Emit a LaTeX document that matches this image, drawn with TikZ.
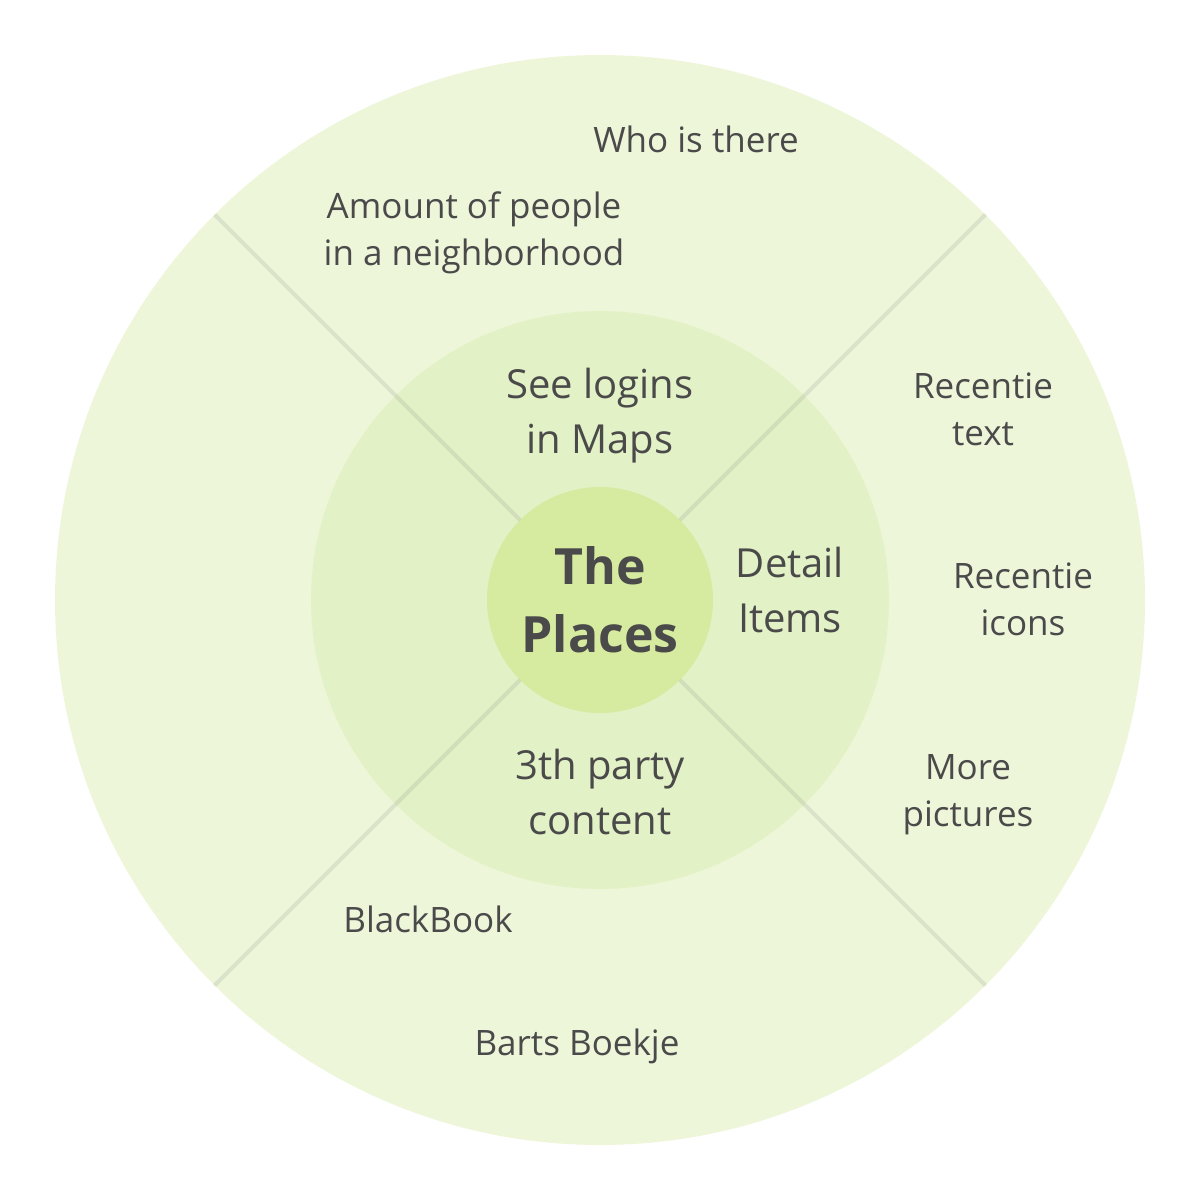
\documentclass[tikz,border=0pt]{standalone}
\usepackage{fontspec}
\setmainfont{Open Sans}
\usetikzlibrary{positioning}

\definecolor{ringout}{HTML}{EEF6DA}
\definecolor{ringmid}{HTML}{E3F1C6}
\definecolor{hubfill}{HTML}{D6EBA0}
\definecolor{txt}{HTML}{4A4A4A}

\begin{document}
\begin{tikzpicture}[x=1pt, y=-1pt,
    ring/.style={circle, inner sep=0pt, outer sep=0pt},
    spoke/.style={line width=4pt, gray, opacity=0.17},
    small/.style={font=\fontsize{35}{47}\selectfont, text=txt, align=center, inner sep=0pt},
    big/.style={font=\fontsize{40}{55}\selectfont, text=txt, align=center, inner sep=0pt}]
  \useasboundingbox (0,0) rectangle (1200,1200);

  % Rings
  \node[ring, fill=ringout, minimum size=1090pt] (outer) at (600,600) {};
  \node[ring, fill=ringmid, minimum size=578pt] (middle) at (600,600) {};
  \node[ring, fill=hubfill, minimum size=226pt,
        font=\fontsize{50}{68}\selectfont\bfseries, text=txt, align=center]
        (hub) at (600,600) {The\\Places};

  % Spokes
  \foreach \a in {45, 135, 225, 315} {
    \draw[spoke] (outer.\a) -- (hub.\a);
  }

  % Middle ring
  \node[big] (logins) at (600,416) {See logins\\in Maps};
  \node[big] (detail) at (790,590) {Detail\\Items};
  \node[big] (third) at (600,792) {3th party\\content};

  % Outer ring
  \node[small] (who) at (696,139) {Who is there};
  \node[small] (amount) at (474,233) {Amount of people\\in a neighborhood};
  \node[small] (rtext) at (983,409) {Recentie\\text};
  \node[small] (ricons) at (1023,599) {Recentie\\icons};
  \node[small] (pics) at (968,795) {More\\pictures};
  \node[small] (black) at (428,919) {BlackBook};
  \node[small] (barts) at (577,1046) {Barts Boekje};
\end{tikzpicture}
\end{document}
